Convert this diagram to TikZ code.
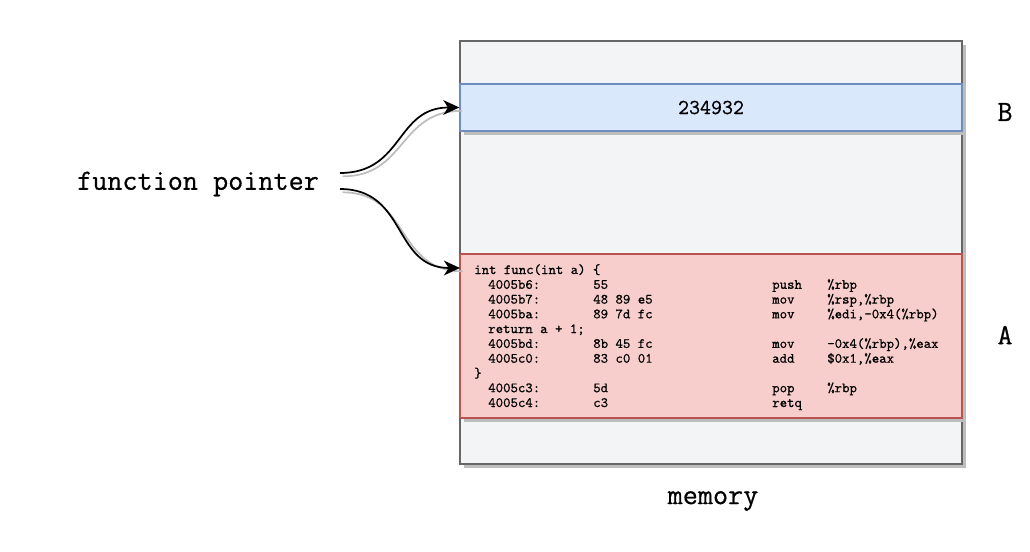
\documentclass[tikz,border=0pt]{standalone}
\usepackage{fontspec}
\setmonofont{Latin Modern Mono}[FakeBold=0.6]
\usepackage{tikz}
\usetikzlibrary{positioning,calc,arrows.meta,shadows}
\definecolor{memfill}{HTML}{F3F4F6}
\definecolor{memline}{HTML}{666666}
\definecolor{ptrfill}{HTML}{DAE8FC}
\definecolor{ptrline}{HTML}{6C8EBF}
\definecolor{codefill}{HTML}{F8CECC}
\definecolor{codeline}{HTML}{B85450}
\definecolor{shadc}{HTML}{BDBDBD}
\newcommand{\asmrow}[6]{%
  \node[code] (#1a) at (488,#2) {#3};
  \node[code] (#1b) at (593,#2) {#4};
  \node[code] (#1c) at (772,#2) {#5};
  \node[code] (#1d) at (827,#2) {#6};}

\begin{document}
\begin{tikzpicture}[x=0.75pt, y=-0.75pt,
  code/.style={font=\fontsize{10.6}{12}\selectfont\ttfamily, anchor=base west, inner sep=0pt},
  lbl/.style={font=\fontsize{22}{25}\selectfont\ttfamily, inner sep=0pt},
  band/.style={line width=1pt, minimum width=376.5pt, inner sep=0pt,
               drop shadow={shadow xshift=3pt, shadow yshift=-3pt, fill=shadc, opacity=1}},
  ptr/.style={-{Stealth[length=12pt,width=11pt,inset=3.5pt]}, line width=1.3pt,
              preaction={draw=shadc, line width=1.3pt, -, transform canvas={xshift=2pt,yshift=-2.5pt}}}]
  \useasboundingbox (0,0) rectangle (1030,552);
  % memory
  \node[band, draw=memline, fill=memfill, minimum height=317.25pt] (mem) at (711,252.5) {};
  \node[band, draw=ptrline, fill=ptrfill, minimum height=35.25pt,
        font=\fontsize{16}{18}\selectfont\ttfamily] (blue) at (711,107.5) {234932};
  \node[band, draw=codeline, fill=codefill, minimum height=123pt] (red) at (711,336) {};
  \node[lbl] (lb) at (1005,112) {B};
  \node[lbl] (la) at (1005,335) {A};
  \node[lbl] (memlbl) at (713,501) {memory};
  % code
  \node[code] (r0) at (474,274) {int func(int a) \{};
  \asmrow{r1}{288.8}{4005b6:}{55}{push}{\%rbp}
  \asmrow{r2}{303.6}{4005b7:}{48 89 e5}{mov}{\%rsp,\%rbp}
  \asmrow{r3}{318.3}{4005ba:}{89 7d fc}{mov}{\%edi,-0x4(\%rbp)}
  \node[code] (r4) at (488,333.1) {return a + 1;};
  \asmrow{r5}{347.9}{4005bd:}{8b 45 fc}{mov}{-0x4(\%rbp),\%eax}
  \asmrow{r6}{362.7}{4005c0:}{83 c0 01}{add}{\$0x1,\%eax}
  \node[code] (r7) at (474,377.5) {\}};
  \asmrow{r8}{392.2}{4005c3:}{5d}{pop}{\%rbp}
  \asmrow{r9}{407}{4005c4:}{c3}{retq}{}
  % pointer
  \node[lbl] (fp) at (198,184) {function pointer};
  \coordinate (fpup) at (340,173);
  \coordinate (fpdn) at (340,189);
  \coordinate (redin) at (460,268);
  \draw[ptr] (fpup) to[out=0,in=180,looseness=1.2] (blue.west);
  \draw[ptr] (fpdn) to[out=0,in=180,looseness=1.2] (redin);
\end{tikzpicture}
\end{document}
